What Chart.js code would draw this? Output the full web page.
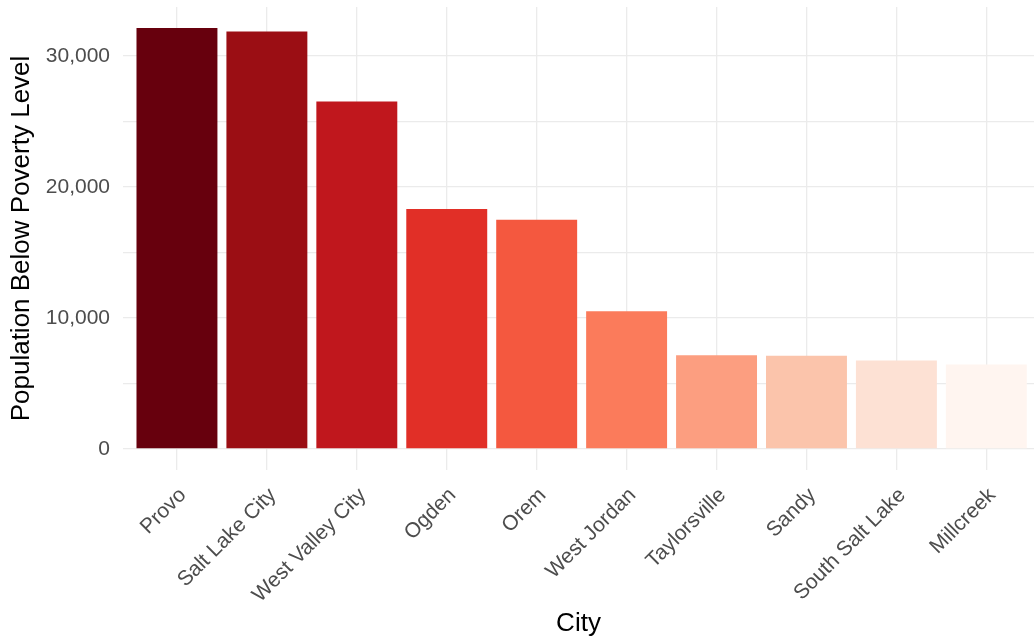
<!DOCTYPE html>
<html>
<head>
<meta charset="utf-8">
<script src="https://cdn.jsdelivr.net/npm/chart.js@4"></script>
<style>
	html, body { margin: 0; padding: 0; background: #ffffff; }
	#wrap { width: 1034px; height: 643px; }
</style>
</head>
<body>
<div id="wrap"><canvas id="povertyChart"></canvas></div>
<script>
const cities = ['Provo', 'Salt Lake City', 'West Valley City', 'Ogden', 'Orem', 'West Jordan', 'Taylorsville', 'Sandy', 'South Salt Lake', 'Millcreek'];
const belowPoverty = [32110, 31850, 26510, 18300, 17490, 10500, 7140, 7110, 6740, 6450];
const barColors = ['#67000D', '#9B0E14', '#C0171D', '#E12F27', '#F4583F', '#FB7B5B', '#FC9E80', '#FBC4AB', '#FDE1D4', '#FFF5F0'];
// gridlines every 5,000, labels every 10,000
const yGridValues = [0, 5000, 10000, 15000, 20000, 25000, 30000];

const gridColor = '#ebebeb';
const tickColor = '#4d4d4d';
const fontFamily = '"Liberation Sans", Arial, sans-serif';

const ctx = document.getElementById('povertyChart').getContext('2d');

const myChart = new Chart(ctx, {
	type: 'bar',
	data: {
		datasets: [{
			label: 'Population Below Poverty Level',
			data: belowPoverty.map((v, i) => ({ x: i, y: v })),
			backgroundColor: barColors,
			borderWidth: 0,
			categoryPercentage: 0.9,
			barPercentage: 1
		}]
	},
	options: {
		responsive: true,
		maintainAspectRatio: false,
		animation: false,
		layout: { padding: { top: 7, right: 0, bottom: 0, left: 0 } },
		plugins: {
			legend: { display: false },
			tooltip: { enabled: false }
		},
		scales: {
			x: {
				type: 'linear',
				min: -0.6,
				max: 9.53,
				offset: false,
				border: { display: false },
				grid: { color: gridColor, lineWidth: 1.3, drawTicks: false, offset: false },
				afterBuildTicks: scale => {
					scale.ticks = cities.map((c, i) => ({ value: i }));
				},
				afterFit: scale => {
					scale.height = 173;
					scale.paddingLeft = 0;
					scale.paddingRight = 0;
				},
				ticks: {
					autoSkip: false,
					minRotation: 45,
					maxRotation: 45,
					padding: 13,
					labelOffset: 6,
					color: tickColor,
					font: { family: fontFamily, size: 21 },
					callback: value => cities[value]
				},
				title: {
					display: true,
					text: 'City',
					color: '#000000',
					font: { family: fontFamily, size: 26 },
					padding: { top: 0, bottom: 4 }
				}
			},
			y: {
				min: -1606,
				max: 33720,
				border: { display: false },
				grid: { color: gridColor, lineWidth: 1.3, drawTicks: false },
				afterBuildTicks: scale => {
					scale.ticks = yGridValues.map(v => ({ value: v }));
				},
				afterFit: scale => {
					scale.width = 123;
					scale.paddingTop = 0;
					scale.paddingBottom = 0;
				},
				ticks: {
					padding: 13,
					color: tickColor,
					font: { family: fontFamily, size: 21 },
					callback: value => value % 10000 === 0 ? value.toLocaleString('en-US') : ''
				},
				title: {
					display: true,
					text: 'Population Below Poverty Level',
					color: '#000000',
					font: { family: fontFamily, size: 26 },
					padding: { top: 6, bottom: 0 }
				}
			}
		}
	}
});
</script>
</body>
</html>
